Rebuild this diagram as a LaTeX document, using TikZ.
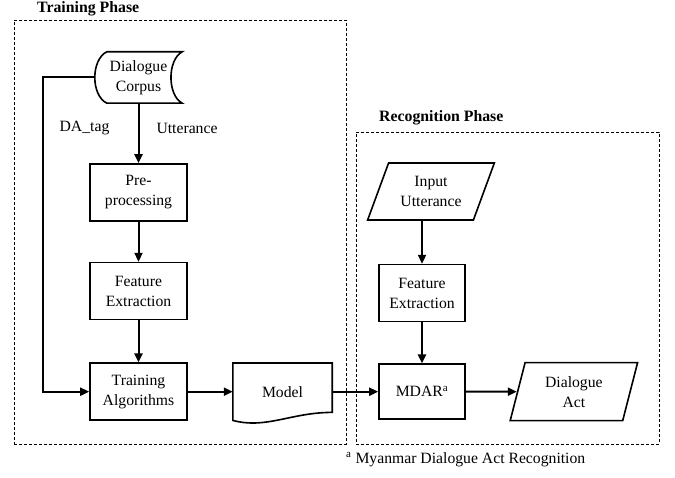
\documentclass[tikz,border=0pt]{standalone}
\usepackage{fontspec}
\setmainfont{Liberation Serif}
\usepackage{tikz}
\usetikzlibrary{arrows.meta,positioning,calc,shapes.geometric}
\tikzset{
  procbox/.style={draw, line width=1.6pt, minimum width=97pt, minimum height=57pt, inner sep=2pt, align=center},
  plainbox/.style={draw=none, inner sep=2pt, align=center},
  iobox/.style={trapezium, trapezium stretches=true, draw, line width=1.6pt, inner sep=2pt, align=center, minimum width=128pt, minimum height=57pt},
  shp/.style={line width=1.6pt},
  frame/.style={draw, line width=0.8pt, dash pattern=on 3pt off 2pt, inner sep=0pt},
  ttl/.style={font=\fontsize{15.8}{18}\selectfont\bfseries, inner sep=0pt, anchor=base west},
  lbl/.style={inner sep=0pt},
  arr/.style={-{Triangle[length=9pt,width=8pt]}, line width=2pt},
}

\begin{document}
\begin{tikzpicture}[x=1pt, y=1pt, font=\fontsize{15.7}{20}\selectfont]
  \useasboundingbox (0,0) rectangle (675,477);
  % phase frames
  \node[frame, minimum width=332pt, minimum height=424pt] (trainph) at (180,245) {};
  \node[frame, minimum width=303pt, minimum height=312pt] (recph) at (507.5,189) {};
  \node[ttl] (trainttl) at (37,464) {Training Phase};
  \node[ttl] (recttl) at (379,355) {Recognition Phase};

  % training phase
  \node[plainbox, minimum width=87pt, minimum height=51pt] (corpus) at (138.5,399.5) {Dialogue\\Corpus};
  \draw[shp] ($(corpus.north west)+(12,0)$) -- (corpus.north east)
    .. controls ($(corpus.north east)+(-15,-8)$) and ($(corpus.south east)+(-15,8)$) .. (corpus.south east)
    -- ($(corpus.south west)+(12,0)$)
    .. controls ($(corpus.south west)+(-4,8)$) and ($(corpus.north west)+(-4,-8)$) .. ($(corpus.north west)+(12,0)$) -- cycle;
  \node[procbox, below=60pt of corpus] (prep) {Pre-\\processing};
  \node[procbox, below=40pt of prep] (featA) {Feature\\Extraction};
  \node[procbox, below=42pt of featA] (algo) {Training\\Algorithms};
  \node[plainbox, minimum width=99pt, minimum height=57pt, right=45pt of algo] (model) {Model};
  \draw[shp] (model.south west) -- (model.north west) -- (model.north east) -- ($(model.south east)+(0,8)$)
    .. controls ($(model.south east)+(-41,8)$) and ($(model.south west)+(33,-9)$) .. (model.south west) -- cycle;
  \node[lbl] (datag) at (84.5,349) {DA\_tag};

  % recognition phase
  \node[procbox, minimum width=86pt, minimum height=55pt, right=46pt of model] (mdar) {MDAR\textsuperscript{a}};
  \node[procbox, minimum width=86pt, above=41pt of mdar] (featB) {Feature\\Extraction};
  \node[iobox, trapezium left angle=65, trapezium right angle=115, above=43pt of featB, xshift=9pt] (input) {Input\\Utterance};
  \node[iobox, minimum height=58pt, trapezium left angle=75, trapezium right angle=105, right=51pt of mdar] (dact) {Dialogue\\Act};

  % connectors
  \draw[arr] (corpus) -- node[lbl, pos=0.42, right=17pt] (utt) {Utterance} (prep);
  \draw[arr] (corpus.west) -- ++(-52,0) |- (algo.west);
  \draw[arr] (prep) -- (featA);
  \draw[arr] (featA) -- (algo);
  \draw[arr] (algo) -- (model);
  \draw[arr] (model) -- (mdar);
  \draw[arr] (input.south -| featB) -- (featB);
  \draw[arr] (featB) -- (mdar);
  \draw[arr] (mdar) -- (dact);

  \node[lbl, anchor=base west] (fnote) at (346,14) {\textsuperscript{a} Myanmar Dialogue Act Recognition};
\end{tikzpicture}
\end{document}
